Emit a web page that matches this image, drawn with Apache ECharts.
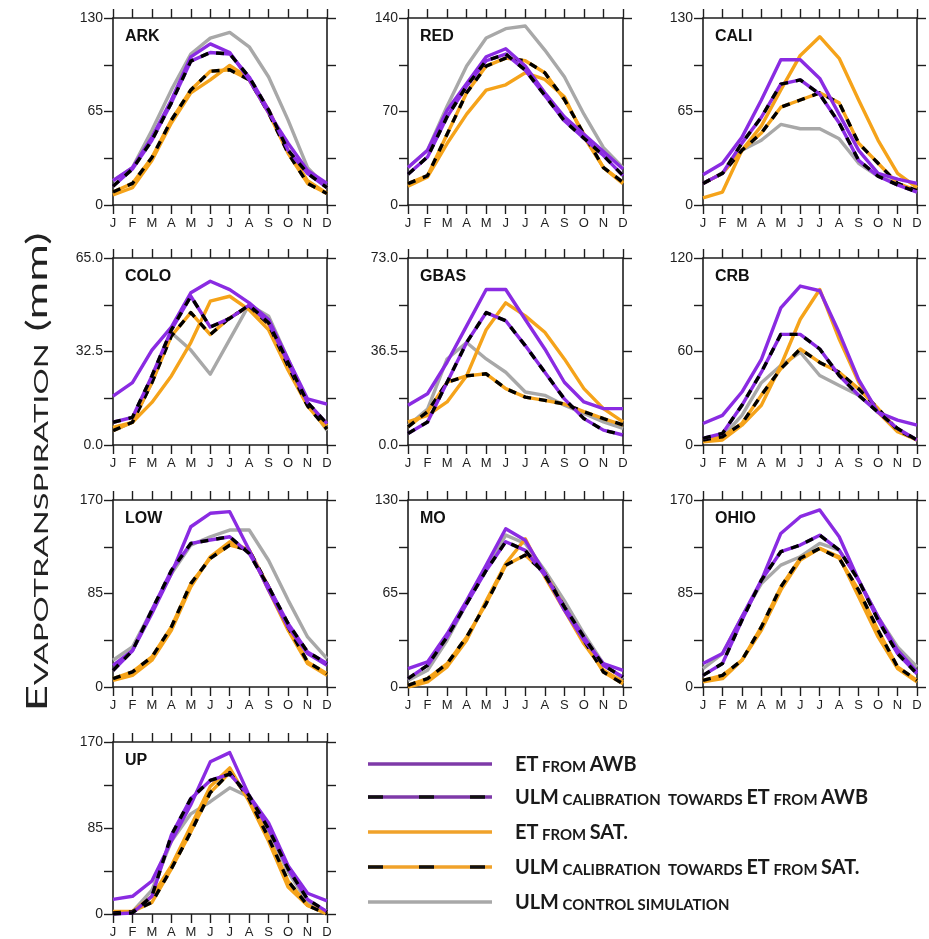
<!DOCTYPE html>
<html>
<head>
<meta charset="utf-8">
<script src="https://cdn.jsdelivr.net/npm/echarts@6/dist/echarts.min.js"></script>
<style>
  html, body { margin: 0; padding: 0; background: #fff; }
  #chart { width: 929px; height: 939px; }
</style>
</head>
<body>
<div id="chart"></div>
<script>
// Monthly evapotranspiration (mm) for ten river basins.
const months = ['J', 'F', 'M', 'A', 'M', 'J', 'J', 'A', 'S', 'O', 'N', 'D'];
const regions = ['ARK', 'RED', 'CALI', 'COLO', 'GBAS', 'CRB', 'LOW', 'MO', 'OHIO', 'UP'];
const axisMax = [130, 140, 130, 65, 73, 120, 170, 130, 170, 170];
const axisDecimals = [0, 0, 0, 1, 1, 0, 0, 0, 0, 0];

// ET from atmospheric water balance
const etFromAwb = [
  [17, 26, 47, 73, 103, 112, 106, 87, 64, 43, 24, 15],
  [28, 41, 71, 91, 111, 117, 104, 84, 66, 53, 40, 27],
  [21, 29, 47, 73, 101, 101, 88, 63, 38, 22, 18, 15],
  [17, 21.7, 33, 41, 52.9, 56.9, 54, 49.4, 43.6, 29.8, 16, 14.2],
  [15.5, 20, 32.3, 46.5, 60.7, 60.7, 49, 37.5, 24.5, 16.8, 14.2, 14.2],
  [13.8, 19, 34, 55, 88, 102, 99, 72, 42, 21, 16, 12.7],
  [19.7, 33, 66.8, 103, 145.7, 157.9, 159.4, 124.5, 88, 54.6, 30.4, 19.7],
  [12.8, 17.4, 37, 60, 84.7, 110, 102, 79, 53.4, 32.5, 16.2, 11.6],
  [21.3, 30.4, 63.8, 97, 139.6, 154.8, 161, 136.6, 97, 63.8, 33.4, 13.7],
  [14.5, 17.5, 32.6, 71.9, 108, 150.4, 159.5, 117, 90, 47.7, 20.5, 13]
];
// ULM calibrated towards ET from AWB
const ulmTowardsAwb = [
  [13, 25, 45, 71, 100, 106, 105, 89, 66, 38, 22, 12],
  [23, 36, 66, 89, 108, 113, 101, 82, 63, 50, 37, 22],
  [15, 22, 43, 61, 84, 87, 77, 57, 31, 20, 14, 9],
  [7.9, 9.6, 24, 40, 51.7, 41, 44, 48.6, 42.5, 28.6, 14.8, 7.4],
  [4.5, 9, 24.5, 40, 51.7, 48.5, 38.8, 28.4, 18, 10.3, 5.8, 3.9],
  [4.2, 7.4, 25.5, 46.7, 71, 71, 61.6, 44.6, 31.9, 21, 10.6, 3.2],
  [15, 33, 70, 106, 130.5, 133.6, 136.6, 121.4, 91, 57.7, 31.9, 21.3],
  [5.8, 15, 34.8, 58, 81, 101, 95, 77.8, 55.7, 34.8, 15, 7],
  [10.6, 21.3, 60.7, 97, 123, 129, 138, 124.5, 97, 60.7, 30.4, 12],
  [0, 1, 17.5, 78, 114, 132, 138.3, 117, 84, 44.7, 14.5, 2.4]
];
// ET from satellite products
const etFromSat = [
  [7, 12, 31, 57, 78, 87, 97, 88, 66, 38, 17, 8],
  [14, 21, 46, 68, 86, 90, 99, 94, 81, 51, 28, 16],
  [5, 9, 38, 55, 80, 104, 117, 102, 73, 45, 22, 12],
  [6.1, 7.9, 14.8, 24, 35.6, 50, 51.7, 47, 40, 26, 13.6, 6.7],
  [9, 11.6, 16.8, 27, 45, 55.5, 50.4, 44, 33.6, 22, 14.2, 9],
  [2.1, 3.2, 12.7, 25.5, 51, 80.7, 99.8, 68, 40.4, 21, 8.5, 3.2],
  [6, 10.6, 24.3, 51.6, 91, 118.4, 132, 124.5, 88, 51.6, 21.3, 10.6],
  [0, 3.5, 14, 32.5, 60, 85.9, 103, 76.6, 53.4, 30, 11.6, 3.5],
  [4.6, 7.6, 24.3, 51.6, 88, 115.4, 126, 118.4, 82, 45.5, 16.7, 4.6],
  [2.4, 2.4, 17.5, 47.7, 87, 126, 144.4, 111, 71.9, 26.6, 8.5, 1]
];
// ULM calibrated towards ET from SAT.
const ulmTowardsSat = [
  [9, 15, 33, 59, 80, 93, 94, 87, 64, 36, 15, 8],
  [16, 22, 53, 84, 104, 110, 108, 99, 79, 53, 28, 17],
  [15, 22, 38, 50, 68, 73, 78, 71, 43, 29, 15, 10],
  [5, 7.9, 21.7, 37.9, 46, 38.4, 44.2, 48.3, 42, 27.5, 13.6, 5.5],
  [7.1, 13, 24.5, 27, 27.8, 22, 18.7, 17.4, 16, 13, 10.3, 7.8],
  [3.2, 5.3, 13.8, 32, 48.9, 61.6, 53, 46.7, 36, 23.4, 9.6, 3.2],
  [7.6, 13.7, 27.3, 54.6, 94, 117, 129, 124.5, 91, 54.6, 22.8, 12],
  [1.2, 5.8, 16.2, 34.8, 58, 84.7, 91.7, 79, 55.7, 32.5, 10.4, 2.3],
  [6, 10.6, 24.3, 54.6, 91, 117, 126, 117, 88, 51.6, 18.2, 6],
  [1, 2.4, 11.5, 44.7, 81, 120, 139.8, 114, 75, 32.6, 8.5, 0]
];
// ULM control simulation
const ulmControl = [
  [17, 26, 52, 80, 105, 116, 120, 110, 89, 59, 26, 12],
  [28, 41, 74, 104, 125, 132, 134, 116, 96, 68, 43, 28],
  [15, 22, 38, 45, 56, 53, 53, 46, 29, 20, 15, 9],
  [5, 7.9, 21.7, 39, 33, 24.6, 36.7, 48.8, 44.8, 29.8, 14.8, 5],
  [7.5, 14, 33.6, 40, 33.6, 28.4, 20.7, 19.4, 15.5, 12.3, 9, 6.5],
  [3.2, 5.3, 19, 40, 51, 59.5, 44.6, 38.2, 31.9, 21, 9.6, 3.2],
  [24.3, 36.4, 70, 103, 129, 136.6, 142.7, 142.7, 115, 79, 45.5, 25.8],
  [4.6, 11.6, 32.5, 58, 82, 105.6, 99.8, 81, 60, 37, 16, 5.8],
  [16.7, 30.4, 63.8, 94, 110.8, 118.4, 130.5, 124.5, 97, 63.8, 36.4, 18.2],
  [0, 2.4, 23.6, 72, 99, 111, 124.7, 115.7, 81, 41.7, 11.5, 2.4]
];

const PURPLE = '#8a2be2';
const ORANGE = '#f5a31a';
const GRAY = '#a8a8a8';
const INK = '#1e1e1e';
const LINE_W = 3.4;
const DASH = [8, 8];

// Panel frame layout
const colLeft = [113, 408, 703];
const colWidth = [214, 215, 214];
const rowTop = [18, 258, 500, 742];
const panelHeight = 187;

const grids = [], xAxes = [], yAxes = [], series = [], graphics = [];

function axisStyle() {
  return { show: true, onZero: false, lineStyle: { color: INK, width: 1.6 } };
}
function tickStyle() {
  return { show: true, inside: false, length: 9, lineStyle: { color: INK, width: 1.4 } };
}

regions.forEach((name, i) => {
  const row = Math.floor(i / 3), col = i % 3;
  const max = axisMax[i], step = max / 4, dec = axisDecimals[i];
  grids.push({ left: colLeft[col], top: rowTop[row], width: colWidth[col], height: panelHeight, containLabel: false });

  const xBase = {
    type: 'category', data: months, boundaryGap: false, gridIndex: i,
    axisLine: axisStyle(), axisTick: Object.assign(tickStyle(), { interval: 0 }),
    splitLine: { show: false }
  };
  xAxes.push(Object.assign({}, xBase, {
    position: 'bottom',
    axisLabel: { interval: 0, margin: 12, fontSize: 13, color: INK, fontFamily: 'Liberation Sans' }
  }));
  xAxes.push(Object.assign({}, xBase, { position: 'top', axisLabel: { show: false } }));

  const yBase = {
    type: 'value', min: 0, max: max, interval: step, gridIndex: i,
    axisLine: axisStyle(), axisTick: tickStyle(), splitLine: { show: false }
  };
  yAxes.push(Object.assign({}, yBase, {
    position: 'left',
    axisLabel: {
      margin: 10, fontSize: 14, color: INK, fontFamily: 'Liberation Sans',
      formatter: v => {
        const k = Math.round(v / step);
        return (k === 0 || k === 2 || k === 4) ? v.toFixed(dec) : '';
      }
    }
  }));
  yAxes.push(Object.assign({}, yBase, { position: 'right', axisLabel: { show: false } }));

  const ax = { xAxisIndex: 2 * i, yAxisIndex: 2 * i };
  const mk = (data, color, dashed) => Object.assign({
    type: 'line', data: data, showSymbol: false, symbol: 'none', silent: true,
    lineStyle: { color: color, width: LINE_W, type: dashed ? DASH : 'solid', cap: 'butt', join: 'round' }
  }, ax);

  series.push(mk(ulmControl[i], GRAY));
  series.push(mk(etFromSat[i], ORANGE));
  series.push(mk(ulmTowardsSat[i], ORANGE));
  series.push(mk(ulmTowardsSat[i], '#000', true));
  series.push(mk(etFromAwb[i], PURPLE));
  series.push(mk(ulmTowardsAwb[i], PURPLE));
  series.push(mk(ulmTowardsAwb[i], '#000', true));

  graphics.push({
    type: 'text', left: colLeft[col] + 12, top: rowTop[row] + 11, z: 10,
    style: { text: name, font: 'bold 16px "Liberation Sans"', fill: '#111' }
  });
});

// Text measurement for stretched small-caps labels
const measureCtx = document.createElement('canvas').getContext('2d');
function richWidth(parts, fonts) {
  return parts.reduce((w, p) => { measureCtx.font = fonts[p[0]]; return w + measureCtx.measureText(p[1]).width; }, 0);
}
function richText(parts) { return parts.map(p => '{' + p[0] + '|' + p[1] + '}').join(''); }

// Vertical axis title
const titleFonts = { e: '28px Lato', s: '20px Lato' };
const titleParts = [['e', 'E'], ['s', 'VAPOTRANSPIRATION'], ['e', ' (mm)']];
const titleScale = 479 / richWidth(titleParts, titleFonts);
graphics.push({
  type: 'text', x: 38, y: 472, rotation: Math.PI / 2, scaleX: titleScale, z: 10,
  style: {
    text: richText(titleParts), align: 'center', verticalAlign: 'middle',
    rich: {
      e: { fontFamily: 'Lato', fontSize: 28, lineHeight: 28, fill: '#222', verticalAlign: 'bottom' },
      s: { fontFamily: 'Lato', fontSize: 20, lineHeight: 20, fill: '#222', verticalAlign: 'bottom' }
    }
  }
});

// Legend
const legendY = [764, 797, 832, 867, 902];
const legendColors = ['#7e3aa8', '#7e3aa8', '#f0a22a', '#f0a22a', '#a8a8a8'];
const legendDashed = [false, true, false, true, false];
const legendLabels = [
  [['b', 'ET'], ['s', ' FROM '], ['b', 'AWB']],
  [['b', 'ULM'], ['s', ' CALIBRATION  TOWARDS '], ['b', 'ET'], ['s', ' FROM '], ['b', 'AWB']],
  [['b', 'ET'], ['s', ' FROM '], ['b', 'SAT.']],
  [['b', 'ULM'], ['s', ' CALIBRATION  TOWARDS '], ['b', 'ET'], ['s', ' FROM '], ['b', 'SAT.']],
  [['b', 'ULM'], ['s', ' CONTROL SIMULATION']]
];
const legendFonts = { b: 'bold 20px Lato', s: 'bold 15px Lato' };
const legendScale = 353 / richWidth(legendLabels[1], legendFonts);
legendY.forEach((y, k) => {
  graphics.push({
    type: 'line', z: 10,
    shape: { x1: 368, y1: y, x2: 492, y2: y },
    style: { stroke: legendColors[k], lineWidth: 3.5 }
  });
  if (legendDashed[k]) {
    graphics.push({
      type: 'line', z: 11,
      shape: { x1: 368, y1: y, x2: 492, y2: y },
      style: { stroke: '#111', lineWidth: 3.5, lineDash: [15, 36] }
    });
  }
  graphics.push({
    type: 'text', x: 515, y: y + 1, scaleX: legendScale, z: 10,
    style: {
      text: richText(legendLabels[k]), align: 'left', verticalAlign: 'middle',
      rich: {
        b: { fontFamily: 'Lato', fontWeight: 'bold', fontSize: 20, lineHeight: 20, fill: '#1a1a1a', verticalAlign: 'bottom' },
        s: { fontFamily: 'Lato', fontWeight: 'bold', fontSize: 15, lineHeight: 15, fill: '#1a1a1a', verticalAlign: 'bottom' }
      }
    }
  });
});

const chart = echarts.init(document.getElementById('chart'), null, { renderer: 'canvas' });
chart.setOption({
  animation: false,
  backgroundColor: '#fff',
  grid: grids,
  xAxis: xAxes,
  yAxis: yAxes,
  series: series,
  graphic: graphics
});
</script>
</body>
</html>
